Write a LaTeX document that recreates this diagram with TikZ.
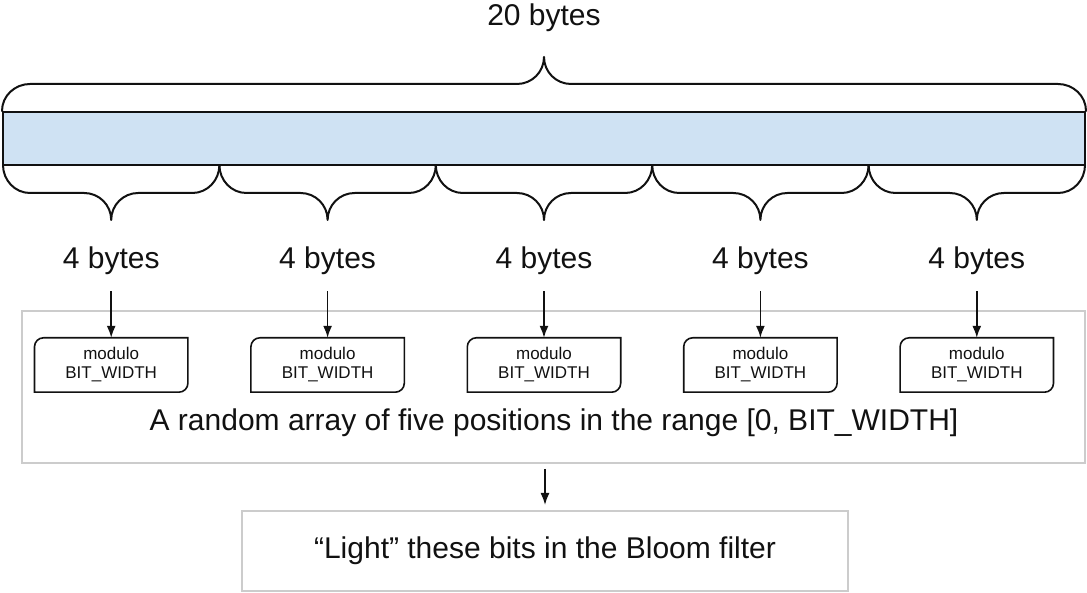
\documentclass[tikz,border=0pt]{standalone}
\usepackage{fontspec}
\setmainfont{Liberation Sans}
\usetikzlibrary{arrows.meta}
\definecolor{barblue}{HTML}{CFE2F3}
\definecolor{framegray}{HTML}{CCCCCC}
\definecolor{ink}{HTML}{111111}
\begin{document}
\begin{tikzpicture}[x=1pt,y=1pt,
  brace/.style={draw=ink, line width=2pt, line join=round, line cap=round},
  bar/.style={draw=ink, line width=2pt, fill=barblue, inner sep=0pt},
  biglabel/.style={text=ink, font=\fontsize{30}{34}\selectfont, inner sep=0pt},
  modbox/.style={text=ink, font=\fontsize{17}{20}\selectfont, align=center,
                 minimum width=153pt, minimum height=54pt, inner sep=0pt},
  modline/.style={draw=ink, line width=1.6pt},
  frame/.style={draw=framegray, line width=2pt, inner sep=0pt},
  arr/.style={draw=ink, line width=1.6pt, -{Latex[length=12pt,width=9pt]}}
]
\useasboundingbox (0,0) rectangle (1087,592);

% the 20-byte bar
\node[bar, minimum width=1082pt, minimum height=53pt] (bar) at (544,453.5) {};
\node[biglabel] (total) at (544,574) {20 bytes};

% top brace
\draw[brace] (bar.north west) to[out=90,in=180] (30,508) -- (517,508)
  to[out=0,in=-90] (544,535) to[out=-90,in=180] (571,508) -- (1058,508)
  to[out=0,in=90] (bar.north east);

% outer frame and bottom box
\node[frame, minimum width=1063pt, minimum height=152pt] (frame) at (553.5,205) {};
\node[biglabel] (rangetext) at (554,169) {A random array of five positions in the range [0, BIT\_WIDTH]};
\node[frame, minimum width=606pt, minimum height=80pt] (light) at (545,41) {};
\node[biglabel] (lighttext) at (545,41) {“Light” these bits in the Bloom filter};
\draw[arr, shorten <=5pt, shorten >=5pt] (frame.south -| light.north) -- (light.north);

% five 4-byte segments
\foreach \i in {0,...,4}{
  \pgfmathsetmacro{\xa}{3+\i*216.4}
  \pgfmathsetmacro{\xb}{\xa+216.4}
  \pgfmathsetmacro{\xm}{(\xa+\xb)/2}
  \draw[brace] (\xa,427) to[out=-90,in=180] (\xa+27,399) -- (\xm-27,399)
    to[out=0,in=90] (\xm,372) to[out=90,in=180] (\xm+27,399) -- (\xb-27,399)
    to[out=0,in=-90] (\xb,427);
  \node[biglabel] (b\i) at (\xm,331) {4 bytes};
  \node[modbox] (m\i) at (\xm,227) {modulo\\[-1pt]BIT\_WIDTH};
  \draw[modline] (m\i.south west) -- ([yshift=-9pt]m\i.north west)
    arc[start angle=180,end angle=90,radius=9pt] -- (m\i.north east)
    -- ([yshift=9pt]m\i.south east) arc[start angle=0,end angle=-90,radius=9pt] -- cycle;
  \draw[arr, shorten <=16pt] (b\i.south) -- (m\i.north);
}
\end{tikzpicture}
\end{document}
